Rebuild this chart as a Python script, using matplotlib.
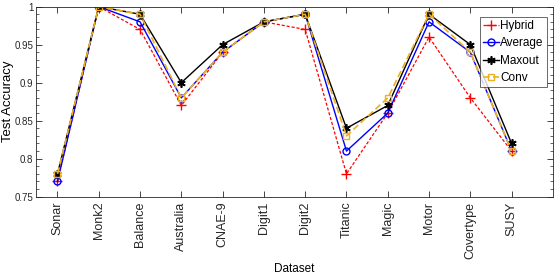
import numpy as np
import matplotlib
matplotlib.use("Agg")
import matplotlib.pyplot as plt
from matplotlib.ticker import MultipleLocator

plt.rcParams['font.family'] = ['Liberation Sans', 'DejaVu Sans']

datasets = ['Sonar', 'Monk2', 'Balance', 'Australia', 'CNAE-9', 'Digit1',
            'Digit2', 'Titanic', 'Magic', 'Motor', 'Covertype', 'SUSY']
hybrid = [0.77, 1.00, 0.97, 0.87, 0.94, 0.98, 0.97, 0.78, 0.86, 0.96, 0.88, 0.81]
average = [0.77, 1.00, 0.98, 0.88, 0.94, 0.98, 0.99, 0.81, 0.86, 0.98, 0.94, 0.81]
maxout = [0.78, 1.00, 0.99, 0.90, 0.95, 0.98, 0.99, 0.84, 0.87, 0.99, 0.95, 0.82]
conv = [0.78, 1.00, 0.99, 0.88, 0.94, 0.98, 0.99, 0.83, 0.88, 0.99, 0.94, 0.81]

x = np.arange(1, len(datasets) + 1)

fig = plt.figure(figsize=(5.54, 2.77), dpi=100)
ax = fig.add_axes([0.065, 0.29, 0.933, 0.686])

ax.plot(x, hybrid, color='#ff0000', linestyle=(0, (2.5, 1.5)), linewidth=0.9,
        marker='+', markersize=7, markeredgewidth=1.0, label='Hybrid')
ax.plot(x, average, color='#0000ff', linestyle='-', linewidth=1.0,
        marker='o', markersize=5, markerfacecolor='none', markeredgewidth=1.0,
        label='Average')
ax.plot(x, maxout, color='black', linestyle='-', linewidth=1.0,
        marker=(6, 2, 0), markersize=6, markeredgewidth=1.2, label='Maxout')
ax.plot(x, conv, color='#edb120', linestyle=(0, (4, 2)), linewidth=1.2,
        marker='s', markersize=4.5, markerfacecolor='none', markeredgewidth=1.0,
        label='Conv')

ax.set_xlim(0.48, 13.0)
ax.set_ylim(0.75, 1.0)
ax.set_xticks(x)
ax.set_xticklabels(datasets, rotation=90, fontsize=9)
ax.yaxis.set_minor_locator(MultipleLocator(0.01))
ax.set_yticks([0.75, 0.8, 0.85, 0.9, 0.95, 1.0])
ax.set_yticklabels(['0.75', '0.8', '0.85', '0.9', '0.95', '1'], fontsize=7)
ax.tick_params(axis='both', which='both', direction='in', top=True, right=True,
               colors='#262626')
ax.tick_params(axis='both', which='major', length=4, width=0.6)
ax.tick_params(axis='y', which='major', pad=2)
ax.tick_params(axis='y', which='minor', length=2, width=0.5)
for s in ax.spines.values():
    s.set_color('#262626')
    s.set_linewidth(0.6)

ax.set_ylabel('Test Accuracy', fontsize=9.5)
ax.yaxis.set_label_coords(-0.043, 0.5)
ax.set_xlabel('Dataset', fontsize=8.5, labelpad=3)

leg = ax.legend(loc='upper right', fontsize=8.5, frameon=True, fancybox=False,
                borderpad=0.25, labelspacing=0.45, handlelength=1.3,
                handletextpad=0.15, borderaxespad=0.4,
                bbox_to_anchor=(0.997, 0.97))
leg.get_frame().set_edgecolor('#262626')
leg.get_frame().set_linewidth(0.6)

fig.savefig('out.png', dpi=100)
